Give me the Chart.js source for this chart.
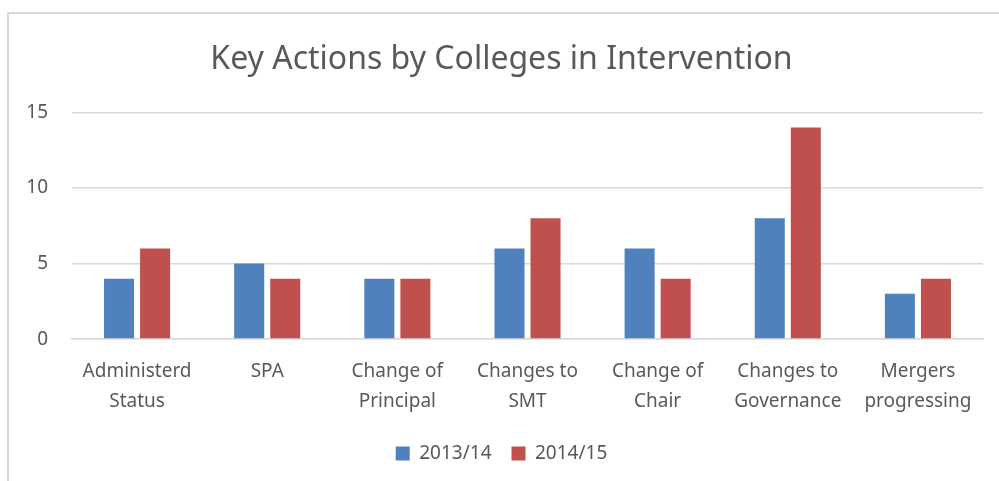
<!DOCTYPE html>
<html>
<head>
<meta charset="utf-8">
<script src="https://cdn.jsdelivr.net/npm/chart.js@4"></script>
<style>
  body { margin: 0; background: #fff; }
  .wrap { position: relative; width: 999px; height: 481px; }
  .frame { position: absolute; left: 7px; top: 12px; width: 1100px; height: 600px; border: 2px solid #d9d9d9; }
  canvas { position: absolute; left: 0; top: 0; }
</style>
</head>
<body>
<div class="wrap">
  <div class="frame"></div>
  <canvas id="chart" width="999" height="481"></canvas>
</div>
<script>
const categories = [
  ["Administerd", "Status"],
  "SPA",
  ["Change of", "Principal"],
  ["Changes to", "SMT"],
  ["Change of", "Chair"],
  ["Changes to", "Governance"],
  ["Mergers", "progressing"],
];
const series2013 = [4, 5, 4, 6, 6, 8, 3];
const series2014 = [6, 4, 4, 8, 4, 14, 4];
const yTicks = [0, 5, 10, 15];

const textColor = "#595959";
const fontFamily = "'Noto Sans', 'Open Sans', sans-serif";

const ctx = document.getElementById("chart").getContext("2d");
const chart = new Chart(ctx, {
  type: "bar",
  data: {
    labels: categories,
    datasets: [
      {
        label: "2013/14",
        data: series2013,
        backgroundColor: "#4F81BD",
        categoryPercentage: 0.554,
        barPercentage: 0.833,
      },
      {
        label: "2014/15",
        data: series2014,
        backgroundColor: "#C0504D",
        categoryPercentage: 0.554,
        barPercentage: 0.833,
      },
    ],
  },
  options: {
    responsive: false,
    animation: false,
    layout: { padding: { left: 20, right: 16, top: 14, bottom: 8 } },
    plugins: {
      title: {
        display: true,
        text: "Key Actions by Colleges in Intervention",
        color: textColor,
        font: { family: fontFamily, size: 32, weight: "normal" },
        padding: { top: 27, bottom: 33 },
      },
      legend: {
        position: "bottom",
        labels: {
          color: textColor,
          font: { family: fontFamily, size: 19 },
          boxWidth: 14,
          boxHeight: 14,
          padding: 20,
        },
      },
      tooltip: { enabled: false },
    },
    scales: {
      y: {
        min: 0,
        max: 15,
        afterBuildTicks: (axis) => {
          axis.ticks = yTicks.map((v) => ({ value: v }));
        },
        afterFit: (axis) => {
          axis.width = 52;
        },
        ticks: { color: textColor, font: { family: fontFamily, size: 19 }, padding: 24 },
        grid: { color: "#d9d9d9", lineWidth: 1.5, drawTicks: false },
        border: { display: false },
      },
      x: {
        afterFit: (axis) => {
          axis.height -= 2;
        },
        ticks: {
          color: textColor,
          font: { family: fontFamily, size: 19, lineHeight: 1.55 },
          maxRotation: 0,
          padding: 10,
        },
        grid: { display: false },
        border: { color: "#d9d9d9", width: 1.5 },
      },
    },
  },
});
</script>
</body>
</html>
